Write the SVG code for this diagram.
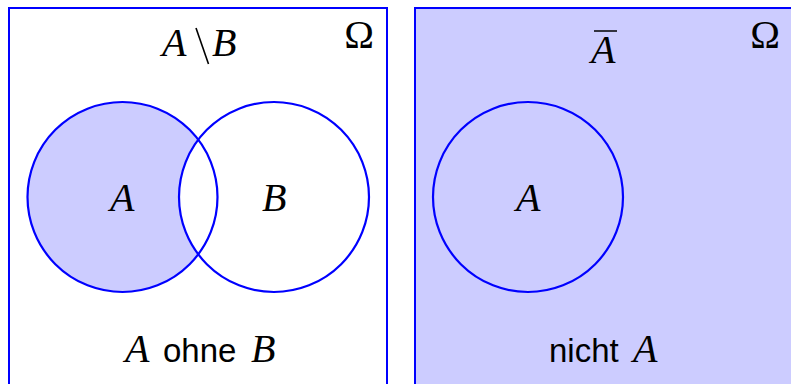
<svg xmlns="http://www.w3.org/2000/svg" width="791" height="384" viewBox="0 0 791 384">
<style>
.frame{stroke:#0000ff;stroke-width:2}
.circ{stroke:#0000ff;stroke-width:2.2;fill:none}
.m{font-family:"Liberation Serif",serif;font-style:italic;font-size:40px;fill:#000}
.u{font-family:"Liberation Serif",serif;font-size:40px;fill:#000}
.s{font-family:"Liberation Sans",Arial,sans-serif;font-size:33px;fill:#000}
</style>
<rect width="791" height="384" fill="#ffffff"/>
<g id="panel-left">
  <rect class="frame" x="9" y="8" width="378" height="390" fill="#ffffff"/>
  <circle cx="122.5" cy="197" r="95" fill="#ccccff"/>
  <circle cx="274" cy="197" r="95" fill="#ffffff"/>
  <circle class="circ" cx="122.5" cy="197" r="95"/>
  <circle class="circ" cx="274" cy="197" r="95"/>
  <text class="m" x="162" y="56">A</text>
  <line x1="196" y1="28" x2="208.5" y2="64" stroke="#000" stroke-width="1.6"/>
  <text class="m" x="212" y="56">B</text>
  <text class="u" x="359" y="48" text-anchor="middle">Ω</text>
  <text class="m" x="110" y="211">A</text>
  <text class="m" x="262" y="211">B</text>
  <text x="125" y="362"><tspan class="m">A</tspan><tspan class="s" x="163">ohne</tspan><tspan class="m" x="251">B</tspan></text>
</g>
<g id="panel-right">
  <rect class="frame" x="415" y="8" width="390" height="390" fill="#ccccff"/>
  <circle class="circ" cx="528" cy="197" r="95" fill="#ffffff"/>
  <text class="m" x="591" y="63">A</text>
  <line x1="594" y1="31" x2="617" y2="31" stroke="#000" stroke-width="1.5"/>
  <text class="u" x="765" y="48" text-anchor="middle">Ω</text>
  <text class="m" x="516" y="211">A</text>
  <text x="549" y="362"><tspan class="s">nicht</tspan><tspan class="m" x="633">A</tspan></text>
</g>
</svg>
